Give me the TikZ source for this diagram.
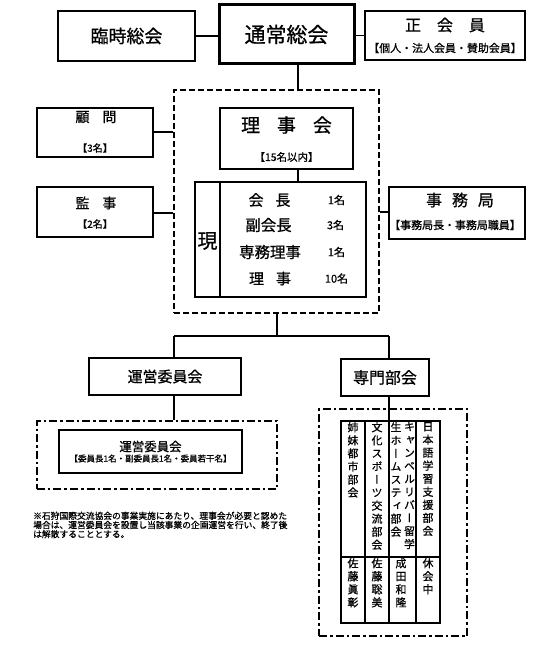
\documentclass[tikz,border=0pt]{standalone}
\usepackage{fontspec}
\setmainfont{Noto Sans CJK JP}[FakeBold=0.9,AutoFakeBold=0.9]
\newfontfamily\vfont[RawFeature={+vert},FakeBold=0.9]{Noto Sans CJK JP}
\newcommand\jfs[1]{\fontsize{#1}{#1}\selectfont}
\tikzset{
  box/.style={draw, line width=1.8bp, inner sep=0pt},
  thickbox/.style={draw, line width=3bp, inner sep=0pt},
  conn/.style={line width=1.8bp},
  dashframe/.style={draw, line width=2.4bp, dash pattern=on 6bp off 3bp, inner sep=0pt},
  dotframe/.style={draw, line width=2.4bp, dash pattern=on 8bp off 3bp on 2.5bp off 3bp, inner sep=0pt},
  lbl/.style={inner sep=0pt},
  vcol/.style={inner sep=0pt, anchor=north, align=center, font={\vfont\fontsize{11}{13.1}\selectfont}},
}
\begin{document}
\begin{tikzpicture}[x=1bp,y=-1bp]
\useasboundingbox (0,0) rectangle (543,647);

% top row
\node[thickbox, minimum width=135bp, minimum height=59bp, font=\jfs{21}] (tsujo) at (286.5,34.5) {通常総会};
\node[box, minimum width=137bp, minimum height=50bp, font=\jfs{18}] (rinji) at (126.5,36) {臨時総会};
\node[box, minimum width=160bp, minimum height=49bp] (seikai) at (445,35.5) {};
\node[lbl, font=\jfs{16}] (seikaiT) at (445,25) {正\hspace{16bp}会\hspace{16bp}員};
\node[lbl, font=\jfs{11}] (seikaiS) at (445,48) {【個人・法人会員・賛助会員】};

% dashed frame
\node[dashframe, minimum width=205bp, minimum height=223bp] (rijiarea) at (276.5,201.5) {};

% left boxes
\node[box, minimum width=116bp, minimum height=49bp] (komon) at (95,132.5) {};
\node[lbl, font=\jfs{14}] (komonT) at (96,117) {顧\hspace{13bp}問};
\node[lbl, font=\jfs{10}] (komonS) at (95,148) {【3名】};
\node[box, minimum width=116bp, minimum height=50bp] (kanji) at (95,212) {};
\node[lbl, font=\jfs{14}] (kanjiT) at (96,203) {監\hspace{13bp}事};
\node[lbl, font=\jfs{10}] (kanjiS) at (95,224) {【2名】};

% riji
\node[box, minimum width=133bp, minimum height=61bp] (riji) at (286.5,138.5) {};
\node[lbl, font=\jfs{19}] (rijiT) at (286.5,125) {理\hspace{17bp}事\hspace{17bp}会};
\node[lbl, font=\jfs{10.5}] (rijiS) at (286.5,157) {【15名以内】};

% officers
\node[draw, line width=2.8bp, inner sep=0pt, minimum width=171bp, minimum height=115bp] (gen) at (280.5,239.5) {};
\coordinate (gdivT) at (220,182);
\coordinate (gdivB) at (220,297);
\draw[conn] (gdivT) -- (gdivB);
\node[lbl, font=\jfs{20}] (genT) at (207.5,241) {現};
\node[lbl, font=\jfs{15}] (r1) at (269.5,200) {会\hspace{12bp}長};
\node[lbl, font=\jfs{15.5}] (r2) at (268.5,225) {副会長};
\node[lbl, font=\jfs{15.5}] (r3) at (270,252) {専務理事};
\node[lbl, font=\jfs{15}] (r4) at (270,278.5) {理\hspace{12bp}事};
\node[lbl, font=\jfs{11}] (n1) at (336.5,200) {1名};
\node[lbl, font=\jfs{11}] (n2) at (335.5,225) {3名};
\node[lbl, font=\jfs{11}] (n3) at (336.5,252) {1名};
\node[lbl, font=\jfs{11}] (n4) at (336.5,278.5) {10名};

% jimukyoku
\node[box, minimum width=136bp, minimum height=52bp] (jimu) at (457,213) {};
\node[lbl, font=\jfs{16}] (jimuT) at (460,200) {事\hspace{10bp}務\hspace{10bp}局};
\node[lbl, font=\jfs{11}] (jimuS) at (455,225) {【事務局長・事務局職員】};

% lower boxes
\node[box, minimum width=152bp, minimum height=37bp, font=\jfs{15}] (unei) at (165,376.5) {運営委員会};
\node[box, minimum width=88bp, minimum height=37bp, font=\jfs{16}] (senmon) at (385,377.5) {専門部会};
\node[dotframe, minimum width=240bp, minimum height=68bp] (ueiarea) at (157,455) {};
\node[box, minimum width=183bp, minimum height=43bp] (uein) at (150.5,451.5) {};
\node[lbl, font=\jfs{12.5}] (ueinT) at (150.5,446.5) {運営委員会};
\node[lbl, font=\jfs{8.5}] (ueinS) at (150.5,458.5) {【委員長1名・副委員長1名・委員若干名】};

\node[dotframe, minimum width=148bp, minimum height=227bp] (senarea) at (393,522.5) {};
\node[box, minimum width=99bp, minimum height=202bp] (tbl) at (390.5,522) {};
\draw[conn] (341,557) -- (440,557);
\draw[conn] (365,421) -- (365,623);
\draw[conn] (389,421) -- (389,623);
\draw[conn] (416,421) -- (416,623);

\node[vcol] (c1) at (353,422) {姉\\妹\\都\\市\\部\\会};
\node[vcol] (c2) at (377,422) {文\\化\\ス\\ポ\\ー\\ツ\\交\\流\\部\\会};
\node[vcol] (c3b) at (409.5,422) {キ\\ャ\\ン\\ベ\\ル\\リ\\バ\\ー\\留\\学};
\node[vcol] (c3a) at (396,422) {生\\ホ\\ー\\ム\\ス\\テ\\ィ\\部\\会};
\node[vcol] (c4) at (428,422) {日\\本\\語\\学\\習\\支\\援\\部\\会};
\node[vcol] (m1) at (353,558) {佐\\藤\\眞\\彰};
\node[vcol] (m2) at (377,558) {佐\\藤\\聡\\美};
\node[vcol] (m3) at (401,558) {成\\田\\和\\隆};
\node[vcol] (m4) at (428,558) {休\\会\\中};

% note
\node[lbl, anchor=north west, align=left, font={\fontsize{8.8}{9.2}\selectfont}] (note) at (33,511.5) {※石狩国際交流協会の事業実施にあたり、理事会が必要と認めた\\場合は、運営委員会を設置し当該事業の企画運営を行い、終了後\\は解散することとする。};

% connectors
\draw[conn] (rinji.east) -- (rinji.east -| tsujo.west);
\draw[conn] (seikai.west) -- (seikai.west -| tsujo.east);
\coordinate (t1) at (298,64);
\draw[conn] (t1 |- tsujo.south) -- (t1 |- rijiarea.north);
\coordinate (t2) at (298,169);
\draw[conn] (t2 |- riji.south) -- (t2 |- gen.north);
\coordinate (k1) at (153,132);
\draw[conn] (k1 -| komon.east) -- (k1 -| rijiarea.west);
\coordinate (k2) at (153,213);
\draw[conn] (k2 -| kanji.east) -- (k2 -| rijiarea.west);
\coordinate (j1) at (379,212);
\draw[conn] (j1 -| rijiarea.east) -- (j1 -| jimu.west);
\coordinate (b0) at (277,336);
\coordinate (bl) at (174,336);
\coordinate (br) at (389,336);
\draw[conn] (b0 |- rijiarea.south) -- (b0);
\draw[conn] (bl) -- (br);
\draw[conn] (bl) -- (bl |- unei.north);
\draw[conn] (br) -- (br |- senmon.north);
\draw[conn] (bl |- unei.south) -- (bl |- ueiarea.north);
\draw[conn] (br |- senmon.south) -- (br |- tbl.north);
\end{tikzpicture}
\end{document}
